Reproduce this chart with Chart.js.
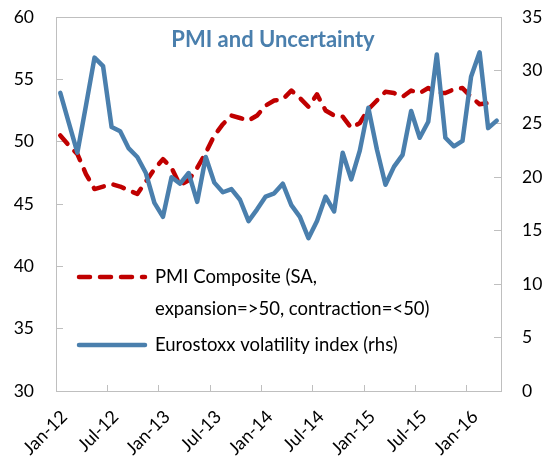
<!DOCTYPE html>
<html>
<head>
<meta charset="utf-8">
<script src="https://cdn.jsdelivr.net/npm/chart.js@4/dist/chart.umd.min.js"></script>
<style>
  html, body { margin: 0; padding: 0; background: #fff; }
</style>
</head>
<body>
<canvas id="graf" width="544" height="468"></canvas>
<script>
// categorias (meses)
const meses = [
  'Jan-12','Feb-12','Mar-12','Apr-12','May-12','Jun-12','Jul-12','Aug-12','Sep-12','Oct-12','Nov-12','Dec-12',
  'Jan-13','Feb-13','Mar-13','Apr-13','May-13','Jun-13','Jul-13','Aug-13','Sep-13','Oct-13','Nov-13','Dec-13',
  'Jan-14','Feb-14','Mar-14','Apr-14','May-14','Jun-14','Jul-14','Aug-14','Sep-14','Oct-14','Nov-14','Dec-14',
  'Jan-15','Feb-15','Mar-15','Apr-15','May-15','Jun-15','Jul-15','Aug-15','Sep-15','Oct-15','Nov-15','Dec-15',
  'Jan-16','Feb-16','Mar-16','Apr-16'
]

// PMI composite (eixo esquerdo)
const pmi = [
  50.5, 49.7, 49.0, 47.4, 46.2, 46.4, 46.6, 46.4, 46.1, 45.8, 46.8, 47.8,
  48.6, 47.9, 46.5, 46.9, 47.9, 49.1, 50.5, 51.4, 52.1, 51.9, 51.7, 52.1,
  52.9, 53.3, 53.4, 54.1, 53.5, 52.8, 53.8, 52.5, 52.1, 52.0, 51.1, 51.5,
  52.6, 53.3, 54.0, 53.9, 53.6, 54.1, 53.9, 54.3, 53.9, 53.9, 54.2, 54.3,
  53.6, 53.0, 53.1
]

// Eurostoxx volatility (eixo direito)
const vstoxx = [
  27.9, 25.1, 22.3, 26.7, 31.2, 30.4, 24.7, 24.3, 22.7, 21.9, 20.4, 17.6,
  16.3, 20.0, 19.4, 20.4, 17.7, 21.9, 19.5, 18.6, 18.9, 17.9, 15.9, 17.0,
  18.2, 18.5, 19.4, 17.4, 16.3, 14.3, 15.9, 18.2, 16.8, 22.3, 19.8, 22.5,
  26.5, 22.6, 19.3, 21.0, 22.1, 26.2, 23.7, 25.2, 31.5, 23.7, 22.9, 23.4,
  29.4, 31.7, 24.6, 25.3
]

const titulo = 'PMI and Uncertainty'
const legendaPmi = ['PMI Composite (SA,', 'expansion=>50, contraction=<50)']
const legendaVol = ['Eurostoxx volatility index (rhs)']

const AZUL = '#4A7FAD'
const VERMELHO = '#C00000'
const CINZA = '#BFBFBF'
const FONTE = 'Lato, "Open Sans", sans-serif'

Chart.defaults.font.family = FONTE
Chart.defaults.color = '#000'

// titulo e legenda dentro da area do grafico
const decoracao = {
  id: 'decoracao',
  afterDraw(chart) {
    const c = chart.ctx
    const a = chart.chartArea
    c.save()
    // moldura de cima
    c.strokeStyle = CINZA
    c.lineWidth = 1
    c.beginPath()
    c.moveTo(a.left, a.top + 0.5)
    c.lineTo(a.right, a.top + 0.5)
    c.stroke()

    c.fillStyle = AZUL
    c.font = 'bold 22px ' + FONTE
    c.textAlign = 'center'
    c.textBaseline = 'middle'
    c.fillText(titulo, 273, 40)

    c.font = '18.5px ' + FONTE
    c.textAlign = 'left'
    c.fillStyle = '#000'
    const ds = chart.data.datasets
    const item = (d, y, linhas) => {
      c.strokeStyle = d.borderColor
      c.lineWidth = d.borderWidth
      c.lineCap = 'round'
      c.setLineDash(d.borderDash || [])
      c.beginPath()
      c.moveTo(79, y)
      c.lineTo(145, y)
      c.stroke()
      c.setLineDash([])
      linhas.forEach((t, k) => c.fillText(t, 155, y + k * 32))
    }
    item(ds[0], 277, legendaPmi)
    item(ds[1], 345, legendaVol)
    c.restore()
  }
}

const semPadding = s => { s.paddingTop = 0; s.paddingBottom = 0 }

const ctx = document.getElementById('graf').getContext('2d')

const config = {
  type: 'line',
  data: {
    labels: meses,
    datasets: [
      {
        label: legendaPmi.join(' '),
        data: pmi,
        yAxisID: 'y',
        borderColor: VERMELHO,
        borderWidth: 4.5,
        borderDash: [11, 10],
        borderCapStyle: 'round',
        borderJoinStyle: 'round',
        pointRadius: 0,
        tension: 0,
        order: 1
      },
      {
        label: legendaVol[0],
        data: vstoxx,
        yAxisID: 'y1',
        borderColor: AZUL,
        borderWidth: 4.5,
        borderCapStyle: 'round',
        borderJoinStyle: 'round',
        pointRadius: 0,
        tension: 0,
        order: 0
      }
    ]
  },
  options: {
    responsive: false,
    animation: false,
    layout: { padding: { top: 17, left: 0, right: 0, bottom: 0 } },
    plugins: {
      legend: { display: false },
      title: { display: false },
      tooltip: { enabled: false }
    },
    scales: {
      x: {
        offset: true,
        grid: {
          offset: true,
          drawOnChartArea: false,
          tickLength: -6,
          color: c => (c.index % 6 === 0 ? CINZA : 'rgba(0,0,0,0)')
        },
        border: { color: CINZA },
        ticks: {
          autoSkip: false,
          maxRotation: 45,
          minRotation: 45,
          padding: 21,
          labelOffset: 4,
          font: { size: 18 },
          callback: (v, i) => (i % 6 === 0 ? meses[i] : '')
        },
        afterFit: s => { s.height = 77; s.paddingLeft = 0; s.paddingRight = 0 }
      },
      y: {
        position: 'left',
        min: 30,
        max: 60,
        grid: { drawOnChartArea: false, tickLength: -7, color: CINZA },
        border: { color: CINZA },
        ticks: { stepSize: 5, padding: 29, font: { size: 17.5 } },
        afterFit: s => { s.width = 56; semPadding(s) }
      },
      y1: {
        position: 'right',
        min: 0,
        max: 35,
        grid: { drawOnChartArea: false, tickLength: -7, color: CINZA },
        border: { color: CINZA },
        ticks: { stepSize: 5, padding: 28, font: { size: 17.5 } },
        afterFit: s => { s.width = 43; semPadding(s) }
      }
    }
  },
  plugins: [decoracao]
}

const grafico = new Chart(ctx, config)
</script>
</body>
</html>
